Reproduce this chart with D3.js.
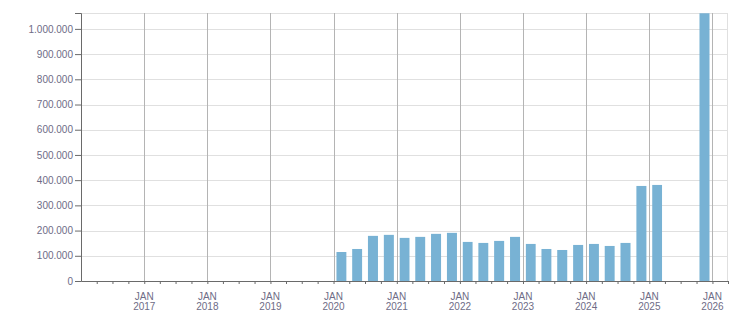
<!DOCTYPE html>
<html>
<head>
<meta charset="utf-8">
<script src="https://cdn.jsdelivr.net/npm/d3@7"></script>
<style>
  html, body { margin: 0; padding: 0; background: #fff; }
  svg { display: block; font-family: "Liberation Sans", Arial, sans-serif; }
</style>
</head>
<body>
<svg id="chart" width="751" height="313"></svg>
<script>
// ---- data ----
const quarters = [
  "2020-01","2020-04","2020-07","2020-10",
  "2021-01","2021-04","2021-07","2021-10",
  "2022-01","2022-04","2022-07","2022-10",
  "2023-01","2023-04","2023-07","2023-10",
  "2024-01","2024-04","2024-07","2024-10",
  "2025-01","2025-04","2025-07","2025-10"
];
const values = [
  115000, 127000, 179000, 183000,
  171000, 175000, 187000, 191000,
  155000, 151000, 159000, 175000,
  147000, 127000, 123000, 143000,
  147000, 139000, 151000, 377000,
  381000, null, null, 1062000
];
const yTicks = [0,100000,200000,300000,400000,500000,600000,700000,800000,900000,1000000];
const tickYears = [2017,2018,2019,2020,2021,2022,2023,2024,2025,2026];
const monthLabel = "JAN";

// ---- layout ----
const margin = {left: 81, top: 13, right: 23, bottom: 32};
const W = 751, H = 313;
const innerW = W - margin.left - margin.right;
const innerH = H - margin.top - margin.bottom;

const parse = d3.timeParse("%Y-%m");
const data = quarters.map((q, i) => ({start: parse(q), value: values[i]}))
  .filter(d => d.value != null);

const x = d3.scaleTime()
  .domain([new Date(2016,0,1), new Date(2026,3,1)])
  .range([0, innerW]);
const yMax = 1063000;
const y = d3.scaleLinear().domain([0, yMax]).range([innerH, 0]);

const svg = d3.select("#chart");
const g = svg.append("g").attr("transform", `translate(${margin.left},${margin.top})`);

const textColor = "#6e6c86";

// horizontal grid
g.append("g").selectAll("line").data(yTicks.filter(v => v > 0)).join("line")
  .attr("x1", 0).attr("x2", innerW)
  .attr("y1", d => Math.round(y(d)) + 0.5).attr("y2", d => Math.round(y(d)) + 0.5)
  .attr("stroke", "#e0e0e0").attr("stroke-width", 1);

// top & right border
g.append("line").attr("x1", 0).attr("x2", innerW).attr("y1", 0.5).attr("y2", 0.5)
  .attr("stroke", "#e0e0e0");
g.append("line").attr("x1", innerW - 0.5).attr("x2", innerW - 0.5).attr("y1", 0).attr("y2", innerH)
  .attr("stroke", "#e0e0e0");

// vertical grid at JAN
const yearDates = tickYears.map(yr => new Date(yr, 0, 1));
g.append("g").selectAll("line").data(yearDates).join("line")
  .attr("x1", d => Math.round(x(d)) + 0.5).attr("x2", d => Math.round(x(d)) + 0.5)
  .attr("y1", 0).attr("y2", innerH)
  .attr("stroke", "#b4b4b4").attr("stroke-width", 1);

// bars
g.append("g").selectAll("rect").data(data).join("rect")
  .attr("x", d => {
    const s = x(d.start), e = x(d3.timeMonth.offset(d.start, 3));
    const w = (e - s) * 0.63;
    return (s + e) / 2 - w / 2;
  })
  .attr("width", d => (x(d3.timeMonth.offset(d.start, 3)) - x(d.start)) * 0.63)
  .attr("y", d => y(d.value))
  .attr("height", d => innerH - y(d.value))
  .attr("fill", "#78b2d4");

// y axis
const yAxis = d3.axisLeft(y).tickValues(yTicks).tickSize(6).tickPadding(2)
  .tickFormat(d => d3.format(",")(d).replace(/,/g, "."));
const ya = g.append("g").call(yAxis);
ya.select(".domain").attr("stroke", "#6a6a6a");
ya.selectAll(".tick line").attr("stroke", "#6a6a6a");
ya.selectAll(".tick text").attr("fill", textColor).style("font-size", "10px")
  .style("font-family", "Liberation Sans, Arial, sans-serif");

// x axis: quarterly minor ticks
const quarterTicks = d3.timeMonth.every(3).range(new Date(2016,3,1), new Date(2026,3,2));
const xAxis = d3.axisBottom(x).tickValues(quarterTicks).tickSize(3).tickSizeOuter(0).tickFormat("");
const xa = g.append("g").attr("transform", `translate(0,${innerH})`).call(xAxis);
xa.select(".domain").attr("stroke", "#6a6a6a");
xa.selectAll(".tick line").attr("stroke", "#6a6a6a");

// x labels at JAN
const lab = g.append("g").attr("transform", `translate(0,${innerH})`);
const lg = lab.selectAll("g").data(yearDates).join("g")
  .attr("transform", d => `translate(${x(d)},0)`);
lg.append("text").attr("y", 19).attr("text-anchor", "middle")
  .attr("fill", textColor).style("font-size", "10px").text(monthLabel);
lg.append("text").attr("y", 29).attr("text-anchor", "middle")
  .attr("fill", textColor).style("font-size", "10px").text(d => d.getFullYear());
</script>
</body>
</html>
